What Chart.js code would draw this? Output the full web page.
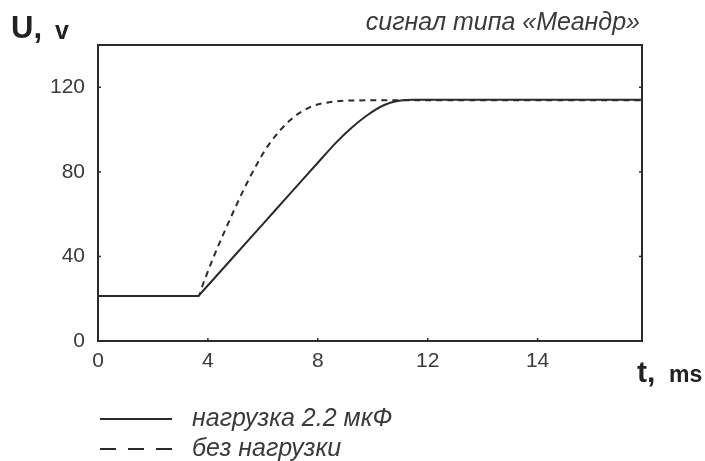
<!DOCTYPE html>
<html>
<head>
<meta charset="utf-8">
<script src="https://cdn.jsdelivr.net/npm/chart.js@4.4.0/dist/chart.umd.min.js"></script>
<style>
  html, body { margin: 0; padding: 0; background: #fff; }
  #wrap { width: 705px; height: 461px; }
</style>
</head>
<body>
<div id="wrap"><canvas id="chart"></canvas></div>
<script>
// values
const loadT = [0, 3.65, 3.75, 5, 6, 7, 8, 8.7, 9.2, 9.8, 10.4, 10.9, 11.5, 19.8];
const loadU = [21.3, 21.3, 22.7, 40.8, 55.3, 69.8, 84.3, 94.3, 100.5, 106.8, 111.5, 113.5, 114.1, 114.1];
const noLoadT = [0, 3.65, 3.83, 4.2, 4.8, 5.3, 5.8, 6.25, 7, 7.7, 8.45, 9.4, 19.8];
const noLoadU = [21.3, 21.3, 27.2, 39.5, 57.5, 71.5, 84, 93.5, 104.5, 110.5, 113, 113.8, 113.9];

const seriesLabels = ['нагрузка 2.2 мкФ', 'без нагрузки'];
const xTicks = [0, 4, 8, 12, 16];
const xTickLabels = ['0', '4', '8', '12', '14'];
const yTicks = [0, 40, 80, 120];

const ink = '#2b2b2b';
const textCol = '#3a3a3a';

const pts = (xs, ys) => xs.map((x, i) => ({ x: x, y: ys[i] }));

// frame, small inner ticks, axis names, title and legend
const decor = {
  id: 'decor',
  afterDraw(chart) {
    const c = chart.ctx;
    const a = chart.chartArea;
    const xs = chart.scales.x, ys = chart.scales.y;
    c.save();
    c.strokeStyle = ink;
    c.lineWidth = 2;
    c.strokeRect(a.left, a.top, a.right - a.left, a.bottom - a.top);
    c.lineWidth = 1.5;
    xTicks.forEach(v => {
      const px = xs.getPixelForValue(v);
      c.beginPath(); c.moveTo(px, a.bottom); c.lineTo(px, a.bottom - 3); c.stroke();
    });
    yTicks.forEach(v => {
      const py = ys.getPixelForValue(v);
      c.beginPath(); c.moveTo(a.left, py); c.lineTo(a.left + 3, py); c.stroke();
      c.beginPath(); c.moveTo(a.right, py); c.lineTo(a.right - 3, py); c.stroke();
    });

    c.fillStyle = '#222';
    c.textBaseline = 'alphabetic';
    c.textAlign = 'left';
    c.font = 'bold 31px "Liberation Sans", Arial, sans-serif';
    c.fillText('U,', 11, 38);
    c.font = 'bold 25px "Liberation Sans", Arial, sans-serif';
    c.fillText('v', 55, 39);
    c.font = 'bold 30px "Liberation Sans", Arial, sans-serif';
    c.fillText('t,', 637, 382);
    c.font = 'bold 23px "Liberation Sans", Arial, sans-serif';
    c.fillText('ms', 669, 382);

    c.fillStyle = textCol;
    c.textAlign = 'right';
    c.font = 'italic 25px "Liberation Sans", Arial, sans-serif';
    c.fillText('сигнал типа «Меандр»', 640, 30);

    c.textAlign = 'left';
    chart.data.datasets.forEach((ds, i) => {
      const y = 419 + i * 30;
      c.strokeStyle = ink;
      c.lineWidth = 1.8;
      c.setLineDash(i === 0 ? [] : [16, 12]);
      c.beginPath(); c.moveTo(100, y); c.lineTo(172, y); c.stroke();
      c.setLineDash([]);
      c.fillText(ds.label, 192, y + 7);
    });
    c.restore();
  }
};

const tickFont = { family: '"Liberation Sans", Arial, sans-serif', size: 21 };

new Chart(document.getElementById('chart'), {
  type: 'line',
  data: {
    datasets: [
      {
        label: seriesLabels[0],
        data: pts(loadT, loadU),
        borderColor: ink,
        borderWidth: 2,
        pointRadius: 0,
        cubicInterpolationMode: 'monotone'
      },
      {
        label: seriesLabels[1],
        data: pts(noLoadT, noLoadU),
        borderColor: ink,
        borderWidth: 2,
        borderDash: [6, 5],
        pointRadius: 0,
        cubicInterpolationMode: 'monotone'
      }
    ]
  },
  options: {
    responsive: true,
    maintainAspectRatio: false,
    animation: false,
    layout: { padding: { left: 8, right: 63, top: 45, bottom: 60 } },
    plugins: { legend: { display: false }, tooltip: { enabled: false } },
    scales: {
      x: {
        type: 'linear',
        min: 0,
        max: 19.8,
        afterBuildTicks: s => { s.ticks = xTicks.map(v => ({ value: v })); },
        afterFit: s => { s.height = 60; },
        grid: { display: false, drawTicks: false },
        border: { display: false },
        ticks: {
          autoSkip: false,
          maxRotation: 0,
          padding: 8,
          color: textCol,
          font: tickFont,
          callback: (v, i) => xTickLabels[i]
        }
      },
      y: {
        min: 0,
        max: 140,
        afterBuildTicks: s => { s.ticks = yTicks.map(v => ({ value: v })); },
        afterFit: s => { s.width = 90; },
        grid: { display: false, drawTicks: false },
        border: { display: false },
        ticks: { padding: 13, color: textCol, font: tickFont }
      }
    }
  },
  plugins: [decor]
});
</script>
</body>
</html>
